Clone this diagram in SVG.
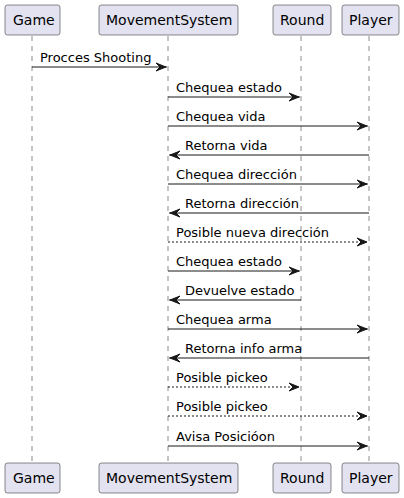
<svg xmlns="http://www.w3.org/2000/svg" width="404" height="498" viewBox="0 0 404 498">
<style>
.box{fill:#E2E2F0;stroke:#181818;stroke-width:0.5}
.pt{font-family:"DejaVu Sans",sans-serif;font-size:14px;fill:#000}
.life{stroke:#181818;stroke-width:0.5;stroke-dasharray:5,5}
.msg{stroke:#181818;stroke-width:1}
.dash{stroke-dasharray:2,2}
.head{fill:#181818;stroke:#181818;stroke-width:1}
.lbl{font-family:"DejaVu Sans",sans-serif;font-size:13px;fill:#000}
</style>
<g id="lifelines">
<line class="life" x1="32" y1="36" x2="32" y2="463"/>
<line class="life" x1="168" y1="36" x2="168" y2="463"/>
<line class="life" x1="301" y1="36" x2="301" y2="463"/>
<line class="life" x1="369" y1="36" x2="369" y2="463"/>
</g>
<g id="Game">
<rect class="box" x="5" y="5" width="55" height="30" rx="2.5"/><text class="pt" x="13" y="25">Game</text>
<rect class="box" x="5" y="463" width="55" height="30" rx="2.5"/><text class="pt" x="13" y="483">Game</text>
</g>
<g id="MovementSystem">
<rect class="box" x="99" y="5" width="139" height="30" rx="2.5"/><text class="pt" x="106" y="25">MovementSystem</text>
<rect class="box" x="99" y="463" width="139" height="30" rx="2.5"/><text class="pt" x="106" y="483">MovementSystem</text>
</g>
<g id="Round">
<rect class="box" x="273" y="5" width="58" height="30" rx="2.5"/><text class="pt" x="280" y="25">Round</text>
<rect class="box" x="273" y="463" width="58" height="30" rx="2.5"/><text class="pt" x="280" y="483">Round</text>
</g>
<g id="Player">
<rect class="box" x="342" y="5" width="57" height="30" rx="2.5"/><text class="pt" x="349" y="25">Player</text>
<rect class="box" x="342" y="463" width="57" height="30" rx="2.5"/><text class="pt" x="349" y="483">Player</text>
</g>
<g id="connectors">
<line class="msg" x1="32" y1="67" x2="167" y2="67"/><polygon class="head" points="156,63 166,67 156,71 160,67"/>
<text class="lbl" x="40" y="62">Procces Shooting</text>
<line class="msg" x1="168" y1="97" x2="300" y2="97"/><polygon class="head" points="289,93 299,97 289,101 293,97"/>
<text class="lbl" x="176" y="92">Chequea estado</text>
<line class="msg" x1="168" y1="126" x2="368" y2="126"/><polygon class="head" points="357,122 367,126 357,130 361,126"/>
<text class="lbl" x="176" y="121">Chequea vida</text>
<line class="msg" x1="169" y1="155" x2="369" y2="155"/><polygon class="head" points="180,151 170,155 180,159 176,155"/>
<text class="lbl" x="185" y="150">Retorna vida</text>
<line class="msg" x1="168" y1="184" x2="368" y2="184"/><polygon class="head" points="357,180 367,184 357,188 361,184"/>
<text class="lbl" x="176" y="179">Chequea dirección</text>
<line class="msg" x1="169" y1="213" x2="369" y2="213"/><polygon class="head" points="180,209 170,213 180,217 176,213"/>
<text class="lbl" x="185" y="208">Retorna dirección</text>
<line class="msg dash" x1="168" y1="242" x2="368" y2="242"/><polygon class="head" points="357,238 367,242 357,246 361,242"/>
<text class="lbl" x="176" y="237">Posible nueva dirección</text>
<line class="msg" x1="168" y1="271" x2="300" y2="271"/><polygon class="head" points="289,267 299,271 289,275 293,271"/>
<text class="lbl" x="176" y="266">Chequea estado</text>
<line class="msg" x1="169" y1="300" x2="301" y2="300"/><polygon class="head" points="180,296 170,300 180,304 176,300"/>
<text class="lbl" x="185" y="295">Devuelve estado</text>
<line class="msg" x1="168" y1="329" x2="368" y2="329"/><polygon class="head" points="357,325 367,329 357,333 361,329"/>
<text class="lbl" x="176" y="324">Chequea arma</text>
<line class="msg" x1="169" y1="358" x2="369" y2="358"/><polygon class="head" points="180,354 170,358 180,362 176,358"/>
<text class="lbl" x="185" y="353">Retorna info arma</text>
<line class="msg dash" x1="168" y1="387" x2="300" y2="387"/><polygon class="head" points="289,383 299,387 289,391 293,387"/>
<text class="lbl" x="176" y="382">Posible pickeo</text>
<line class="msg dash" x1="168" y1="416" x2="368" y2="416"/><polygon class="head" points="357,412 367,416 357,420 361,416"/>
<text class="lbl" x="176" y="411">Posible pickeo</text>
<line class="msg" x1="168" y1="446" x2="368" y2="446"/><polygon class="head" points="357,442 367,446 357,450 361,446"/>
<text class="lbl" x="176" y="441">Avisa Posicióon</text>
</g>
</svg>
